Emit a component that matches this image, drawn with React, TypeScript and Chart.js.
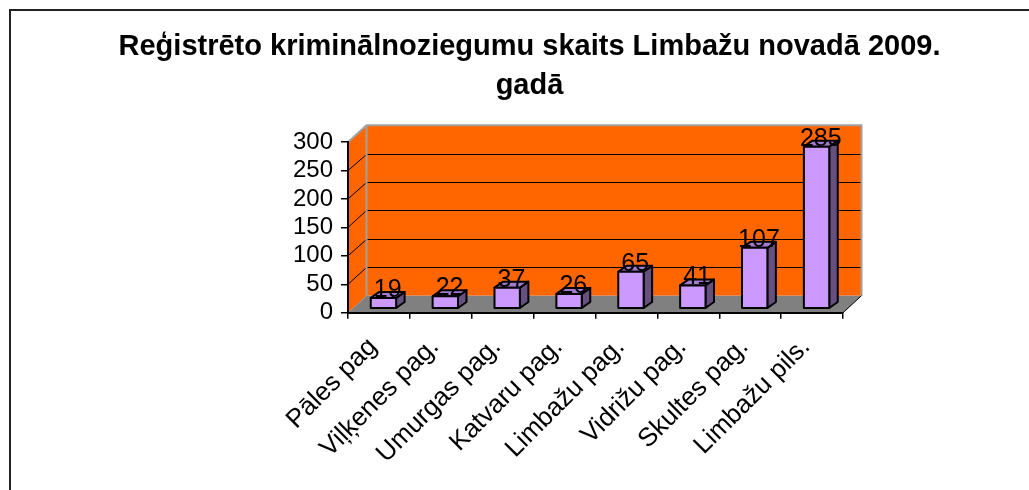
import { useEffect, useRef } from "react";
import { Chart, registerables } from "chart.js";

Chart.register(...registerables);

const TITLE_LINES = ["Reģistrēto kriminālnoziegumu skaits Limbažu novadā 2009.", "gadā"];
const categories = [
  "Pāles pag",
  "Viļķenes pag.",
  "Umurgas pag.",
  "Katvaru pag.",
  "Limbažu pag.",
  "Vidrižu pag.",
  "Skultes pag.",
  "Limbažu pils.",
];
const values = [19, 22, 37, 26, 65, 41, 107, 285];
const yTicks = [0, 50, 100, 150, 200, 250, 300];

const FONT = "'Liberation Sans', Arial, Helvetica, sans-serif";
const W = 1029;
const H = 490;

// 3D look
const DEPTH_X = 18.5;
const DEPTH_Y = 17;
const BAR_FRONT_X = 4.5;
const BAR_FRONT_Y = 4;
const BAR_DEPTH_X = 8.5;
const BAR_DEPTH_Y = 6;

const WALL = "#FF6600";
const FLOOR = "#808080";
const WALL_EDGE = "#A0A0A0";
const BAR_FRONT = "#CC99FF";
const BAR_TOP = "#A07ACC";
const BAR_SIDE = "#665080";

function poly(ctx: CanvasRenderingContext2D, pts: number[][], fill?: string, stroke?: string, lw = 1) {
  ctx.beginPath();
  ctx.moveTo(pts[0][0], pts[0][1]);
  for (let i = 1; i < pts.length; i++) ctx.lineTo(pts[i][0], pts[i][1]);
  ctx.closePath();
  if (fill) {
    ctx.fillStyle = fill;
    ctx.fill();
  }
  if (stroke) {
    ctx.strokeStyle = stroke;
    ctx.lineWidth = lw;
    ctx.lineJoin = "round";
    ctx.stroke();
  }
}

const threeD = {
  id: "threeD",
  beforeDraw(chart: any) {
    const { ctx, chartArea: a } = chart;
    const y = chart.scales.y;
    ctx.save();
    ctx.fillStyle = "#fff";
    ctx.fillRect(0, 0, chart.width, chart.height);
    // outer frame
    ctx.strokeStyle = "#222";
    ctx.lineWidth = 2;
    ctx.strokeRect(10, 10, chart.width + 40, chart.height + 40);

    const L = a.left;
    const R = a.right;
    const T = y.getPixelForValue(yTicks[yTicks.length - 1]);
    const B = y.getPixelForValue(0);

    // back wall
    ctx.fillStyle = WALL;
    ctx.fillRect(L + DEPTH_X, T - DEPTH_Y, R - L, B - T);
    // side wall
    poly(ctx, [[L, T], [L + DEPTH_X, T - DEPTH_Y], [L + DEPTH_X, B - DEPTH_Y], [L, B]], WALL);
    // floor
    poly(ctx, [[L, B], [R, B], [R + DEPTH_X, B - DEPTH_Y], [L + DEPTH_X, B - DEPTH_Y]], FLOOR);

    // gridlines
    ctx.strokeStyle = "#000";
    ctx.lineWidth = 1;
    for (const v of yTicks) {
      if (v <= 0 || v >= yTicks[yTicks.length - 1]) continue;
      const py = Math.round(y.getPixelForValue(v) - DEPTH_Y) + 0.5;
      ctx.beginPath();
      ctx.moveTo(L + DEPTH_X, py);
      ctx.lineTo(R + DEPTH_X, py);
      ctx.stroke();
      ctx.beginPath();
      ctx.moveTo(L, y.getPixelForValue(v));
      ctx.lineTo(L + DEPTH_X, py);
      ctx.stroke();
    }

    // wall edges
    ctx.strokeStyle = WALL_EDGE;
    ctx.lineWidth = 2;
    ctx.beginPath();
    ctx.moveTo(L, T);
    ctx.lineTo(L + DEPTH_X, T - DEPTH_Y);
    ctx.lineTo(R + DEPTH_X, T - DEPTH_Y);
    ctx.lineTo(R + DEPTH_X, B - DEPTH_Y);
    ctx.moveTo(L + DEPTH_X, T - DEPTH_Y);
    ctx.lineTo(L + DEPTH_X, B - DEPTH_Y);
    ctx.stroke();

    // floor right edge
    ctx.strokeStyle = "#000";
    ctx.lineWidth = 1;
    ctx.beginPath();
    ctx.moveTo(R, B);
    ctx.lineTo(R + DEPTH_X, B - DEPTH_Y);
    ctx.stroke();
    ctx.restore();
  },
  afterDatasetsDraw(chart: any) {
    const { ctx } = chart;
    const meta = chart.getDatasetMeta(0);
    const data = chart.data.datasets[0].data as number[];
    ctx.save();
    meta.data.forEach((el: any) => {
      const p = el.getProps(["x", "y", "base", "width"], true);
      const w = p.width;
      const left = p.x - w / 2 + BAR_FRONT_X;
      const right = left + w;
      const top = p.y - BAR_FRONT_Y;
      const bottom = p.base - BAR_FRONT_Y;
      // side
      poly(ctx, [[right, top], [right + BAR_DEPTH_X, top - BAR_DEPTH_Y], [right + BAR_DEPTH_X, bottom - BAR_DEPTH_Y], [right, bottom]], BAR_SIDE, "#000", 2);
      // top
      poly(ctx, [[left, top], [right, top], [right + BAR_DEPTH_X, top - BAR_DEPTH_Y], [left + BAR_DEPTH_X, top - BAR_DEPTH_Y]], BAR_TOP, "#000", 2);
      // front
      poly(ctx, [[left, top], [right, top], [right, bottom], [left, bottom]], BAR_FRONT, "#000", 2);
    });
    // data labels
    ctx.fillStyle = "#000";
    ctx.font = `25px ${FONT}`;
    ctx.textAlign = "center";
    ctx.textBaseline = "middle";
    meta.data.forEach((el: any, i: number) => {
      const p = el.getProps(["x", "y", "width"], true);
      const left = p.x - p.width / 2 + BAR_FRONT_X;
      const cx = left + p.width / 2 + BAR_DEPTH_X / 2;
      const cy = p.y - BAR_FRONT_Y - BAR_DEPTH_Y / 2 - 5;
      ctx.fillText(String(data[i]), cx, cy);
    });
    ctx.restore();
  },
};

export default function App() {
  const ref = useRef<HTMLCanvasElement>(null);
  useEffect(() => {
    if (!ref.current) return;
    const chart = new Chart(ref.current, {
      type: "bar",
      data: {
        labels: categories,
        datasets: [
          {
            data: values,
            backgroundColor: "rgba(0,0,0,0)",
            borderWidth: 0,
            categoryPercentage: 1,
            barPercentage: 0.41,
          },
        ],
      },
      options: {
        animation: false,
        responsive: false,
        events: [],
        layout: { padding: { left: 30, right: 0, top: 0, bottom: 0 } },
        plugins: {
          legend: { display: false },
          tooltip: { enabled: false },
          title: {
            display: true,
            text: TITLE_LINES,
            color: "#000",
            font: { family: FONT, size: 29, weight: "bold", lineHeight: 1.33 },
            padding: { top: 28, bottom: 37 },
          },
        },
        scales: {
          x: {
            offset: true,
            grid: { offset: true, drawOnChartArea: false, drawTicks: true, tickLength: 6, color: "#000", lineWidth: 1.5 },
            border: { display: true, color: "#000", width: 2 },
            ticks: {
              color: "#000",
              font: { family: FONT, size: 26 },
              minRotation: 45,
              maxRotation: 45,
              autoSkip: false,
              padding: 13,
              labelOffset: -6,
            },
            afterFit: (s: any) => {
              s.height = H - 312.7;
            },
          },
          y: {
            min: 0,
            max: 300,
            afterBuildTicks: (s: any) => {
              s.ticks = yTicks.map((v) => ({ value: v }));
            },
            grid: { drawOnChartArea: false, drawTicks: true, tickLength: 7, color: "#000", lineWidth: 1.5 },
            border: { display: true, color: "#000", width: 2 },
            ticks: { color: "#000", font: { family: FONT, size: 24 }, padding: 8, autoSkip: false },
            afterFit: (s: any) => {
              s.width = 318;
            },
          },
          ySpacer: {
            type: "linear",
            axis: "y",
            position: "right",
            display: true,
            grid: { display: false, drawTicks: false },
            border: { display: false },
            ticks: { display: false },
            afterFit: (s: any) => {
              s.width = W - 843;
            },
          },
        },
      },
      plugins: [threeD],
    });
    return () => chart.destroy();
  }, []);
  return (
    <canvas
      ref={ref}
      width={W}
      height={H}
      style={{ position: "absolute", left: 0, top: 0, width: W, height: H }}
    />
  );
}
